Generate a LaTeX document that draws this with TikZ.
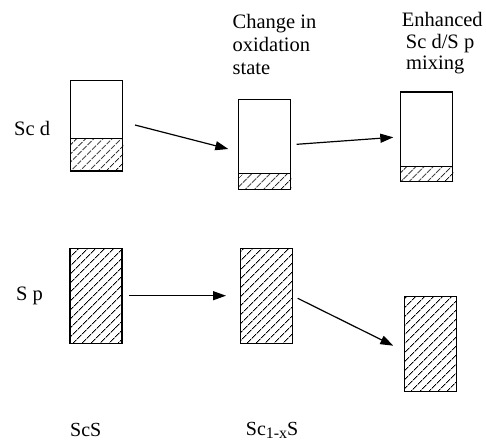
\documentclass[tikz,border=0pt]{standalone}
\usepackage{fontspec}
\setmainfont{Liberation Serif}
\usetikzlibrary{arrows.meta,patterns.meta,calc}
\begin{document}
\begin{tikzpicture}[x=1pt,y=-1pt,
  band/.style={draw=black,line width=1.3pt,rectangle,inner sep=0pt,minimum width=52pt},
  hatch/.style={pattern={Lines[angle=45,distance=6.5pt,line width=0.9pt]}},
  conn/.style={line width=1.2pt,-{Triangle[length=13pt,width=9pt]}},
  lbl/.style={font=\fontsize{20.5}{22}\selectfont,inner sep=0pt,anchor=base west},
  blbl/.style={font=\fontsize{20}{22}\selectfont,inner sep=0pt,anchor=base west}]
\useasboundingbox[fill=white] (0,0) rectangle (486,442);
% top row (Sc d)
\node[band,minimum height=90.3pt] (b1) at (96.7,125.85) {};
\node[band,minimum height=90pt] (b2) at (264.7,144.3) {};
\node[band,minimum height=89.3pt] (b3) at (426.8,136.65) {};
\path[hatch] (b1.south west) rectangle ($(b1.south east)+(0,-33)$);
\draw[line width=1.3pt] ($(b1.south west)+(0,-33)$) -- ($(b1.south east)+(0,-33)$);
\path[hatch] (b2.south west) rectangle ($(b2.south east)+(0,-16.3)$);
\draw[line width=1.3pt] ($(b2.south west)+(0,-16.3)$) -- ($(b2.south east)+(0,-16.3)$);
\path[hatch] (b3.south west) rectangle ($(b3.south east)+(0,-15.6)$);
\draw[line width=1.3pt] ($(b3.south west)+(0,-15.6)$) -- ($(b3.south east)+(0,-15.6)$);
\node[band,minimum height=90.3pt] at (b1) {};
\node[band,minimum height=90pt] at (b2) {};
\node[band,minimum height=89.3pt] at (b3) {};
% bottom row (S p)
\node[band,hatch,minimum height=95pt] (b4) at (96,295.8) {};
\node[band,hatch,minimum height=95pt] (b5) at (266.5,295.8) {};
\node[band,hatch,minimum height=95pt] (b6) at (430.2,344.2) {};
% connectors
\coordinate (a1s) at (135,125);   \coordinate (a1e) at (228.3,149);
\coordinate (a2s) at (296.7,144.3); \coordinate (a2e) at (393.3,137.3);
\coordinate (a3s) at (129.3,295.7); \coordinate (a3e) at (226,295.7);
\coordinate (a4s) at (297.7,298.3); \coordinate (a4e) at (393.3,345.7);
\draw[conn] (a1s) -- (a1e);
\draw[conn] (a2s) -- (a2e);
\draw[conn] (a3s) -- (a3e);
\draw[conn] (a4s) -- (a4e);
% labels
\node[lbl] (scd) at (14,135) {Sc d};
\node[lbl] (sp) at (16,300.7) {S p};
\node[lbl] (t1) at (232.5,28) {Change in};
\node[lbl] (t2) at (232.5,51) {oxidation};
\node[lbl] (t3) at (232.5,74) {state};
\node[lbl] (e1) at (401.7,26) {Enhanced};
\node[lbl] (e2) at (405.7,48) {Sc d/S p};
\node[lbl] (e3) at (406,69.5) {mixing};
\node[blbl] (scs) at (70,436) {ScS};
\node[blbl] (scx) at (245.7,435) {Sc\raisebox{-3.5pt}{\fontsize{16}{16}\selectfont 1-x}S};
\end{tikzpicture}
\end{document}
